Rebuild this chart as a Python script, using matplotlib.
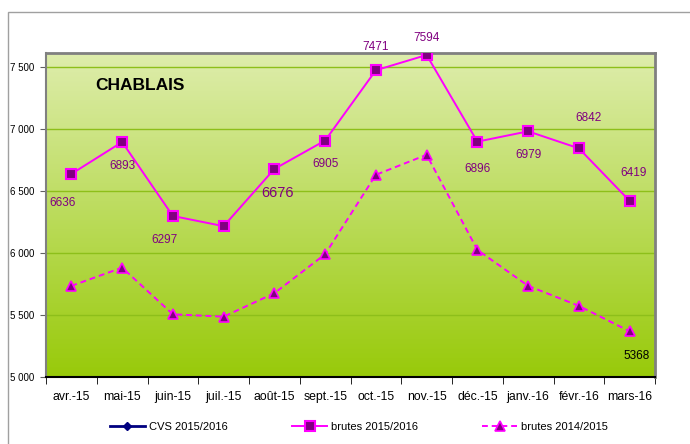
import numpy as np
import matplotlib
matplotlib.use("Agg")
import matplotlib.pyplot as plt

plt.rcParams['font.family'] = ['Liberation Sans', 'DejaVu Sans']

months = ["avr.-15", "mai-15", "juin-15", "juil.-15", "août-15", "sept.-15",
          "oct.-15", "nov.-15", "déc.-15", "janv.-16", "févr.-16", "mars-16"]
brutes_1516 = [6636, 6893, 6297, 6215, 6676, 6905, 7471, 7594, 6896, 6979, 6842, 6419]
brutes_1415 = [5734, 5881, 5505, 5486, 5675, 5989, 6629, 6790, 6024, 5734, 5573, 5368]
cvs_1516 = [np.nan] * 12
yticks = [5000, 5500, 6000, 6500, 7000, 7500]
ytick_labels = ["5 000", "5 500", "6 000", "6 500", "7 000", "7 500"]

W, H = 690, 444
fig = plt.figure(figsize=(W / 100, H / 100), dpi=100)
fig.patch.set_facecolor("white")

# outer frame
frame = plt.Rectangle((8 / W, -0.1), 1.2, (H - 12) / H + 0.1, transform=fig.transFigure,
                      fill=False, edgecolor="#a0a0a0", lw=1.0, zorder=0)
fig.patches.append(frame)

L, T, R, B = 46, 53, 655, 377
ax = fig.add_axes([L / W, 1 - B / H, (R - L) / W, (B - T) / H])
x = np.arange(len(months))
ax.set_xlim(-0.5, len(months) - 0.5)
ax.set_ylim(5000, 7610)

# gradient background
top = np.array([222, 237, 172]) / 255
bot = np.array([152, 202, 10]) / 255
n = 256
t = np.linspace(0, 1, n)[:, None]
grad = (top * (1 - t) + bot * t)[:, None, :]
ax.imshow(grad, aspect="auto", extent=(-0.5, len(months) - 0.5, 5000, 7610),
          origin="upper", zorder=0)

for yv in yticks[1:]:
    ax.axhline(yv, color="#8dbf1a", lw=1.0, zorder=1)

pink = "#ff00ff"
dark = "#800080"
h0, = ax.plot(x, cvs_1516, color="#000080", marker="D", ms=4, lw=2, label="CVS 2015/2016")
h1, = ax.plot(x, brutes_1516, color=pink, lw=1.4, marker="s", ms=6.5,
              mfc=dark, mec=pink, mew=1.5, zorder=3, label="brutes 2015/2016")
h2, = ax.plot(x, brutes_1415, color=pink, lw=1.4, ls=(0, (3, 2)), marker="^", ms=7,
              mfc=dark, mec=pink, mew=1.2, zorder=3, label="brutes 2014/2015")

# data labels (offsets in points)
offsets = {0: (-6, -21), 1: (0, -17), 2: (-6, -17), 4: (2, -17), 5: (0, -17),
           6: (0, 17), 7: (0, 12), 8: (0, -20), 9: (0, -17), 10: (7, 22), 11: (3, 20)}
for i, (dx, dy) in offsets.items():
    fs = 10.5 if i == 4 else 8.5
    ax.annotate(str(brutes_1516[i]), (x[i], brutes_1516[i]), xytext=(dx, dy),
                textcoords="offset points", ha="center", va="center",
                color=dark, fontsize=fs, zorder=5)
ax.annotate(str(brutes_1415[11]), (x[11], brutes_1415[11]), xytext=(5, -18),
            textcoords="offset points", ha="center", va="center",
            color="black", fontsize=8.5, zorder=5)

ax.text(0.081, 0.901, "CHABLAIS", transform=ax.transAxes, fontsize=12.5,
        fontweight="bold", color="black", ha="left", va="center")

ax.set_yticks(yticks)
ax.set_yticklabels(ytick_labels, fontsize=7)
ax.set_xticks(x)
ax.set_xticklabels(months, fontsize=8.8)
ax.set_xticks(np.arange(-0.5, len(months)), minor=True)
ax.tick_params(axis="x", which="major", length=0, pad=10)
ax.tick_params(axis="x", which="minor", length=5, color="black", direction="out")
ax.tick_params(axis="y", length=4.3, color="#606060", direction="out", pad=4)

for s in ["top", "right"]:
    ax.spines[s].set_color("#808080")
    ax.spines[s].set_linewidth(2)
ax.spines["left"].set_color("#808080")
ax.spines["left"].set_linewidth(1.5)
ax.spines["bottom"].set_color("black")
ax.spines["bottom"].set_linewidth(1.5)

leg = fig.legend(handles=[h0, h1, h2], loc="center", bbox_to_anchor=(0.52, 1 - 427 / H),
                 ncol=3, frameon=False, fontsize=8, columnspacing=5.8,
                 handlelength=3.2, handletextpad=0.3, markerscale=1.0)

fig.savefig("out.png", dpi=100, facecolor="white")
